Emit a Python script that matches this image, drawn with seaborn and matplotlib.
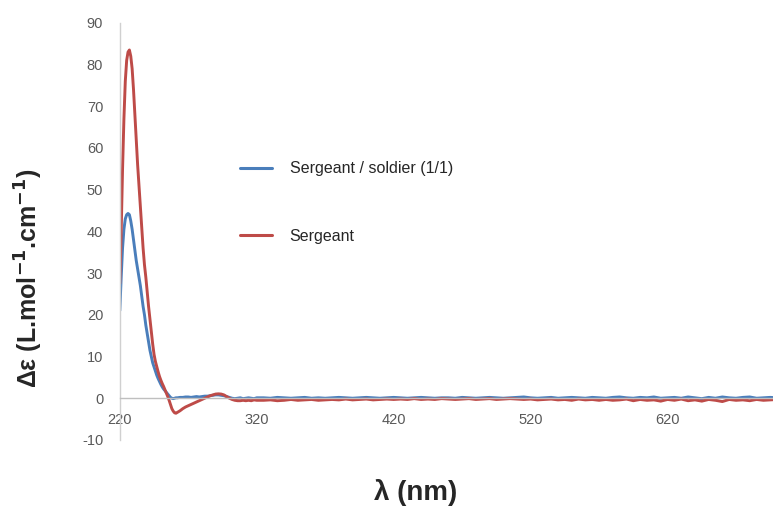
import numpy as np
import pandas as pd
import matplotlib
matplotlib.use("Agg")
import matplotlib.pyplot as plt
import seaborn as sns

# wavelength sampling (nm): fine near the band, coarser in the flat part
wl_band = list(range(220, 263))          # 220..262 step 1
wl_tail = list(range(264, 321, 2))       # 264..320 step 2
wl_flat = list(range(325, 701, 5))       # 325..700 step 5
wavelengths = wl_band + wl_tail + wl_flat

mix_band = [21, 29, 36, 40.5, 43, 44, 44.3, 44, 42.5, 40.5,
            38, 35.5, 33, 31, 29, 27, 24.5, 22, 20, 17.5,
            15.5, 13.5, 11.5, 10, 8.5, 7.5, 6.5, 5.5, 4.7, 4,
            3.3, 2.7, 2.2, 1.8, 1.4, 1.0, 0.6, 0.2, 0.0, -0.1,
            0.0, 0.1, 0.1]
mix_tail = [0.2, 0.2, 0.3, 0.3, 0.2, 0.3, 0.4, 0.3, 0.4, 0.5,
            0.5, 0.6, 0.7, 0.8, 0.8, 0.7, 0.6, 0.4, 0.2, 0.0,
            -0.1, 0.0, 0.1, -0.1, 0.0, 0.1, 0.0, -0.1, 0.1]
mix_flat = [0.1, 0.0, 0.2, 0.1, 0.0, 0.1, 0.2, 0.0, 0.1, 0.0,
            0.1, 0.2, 0.1, 0.0, 0.1, 0.2, 0.1, 0.0, 0.1, 0.2,
            0.1, 0.0, 0.1, 0.2, 0.1, 0.0, 0.1, 0.1, 0.0, 0.2,
            0.1, 0.0, 0.1, 0.2, 0.1, 0.0, 0.1, 0.2, 0.3, 0.1,
            0.0, 0.1, 0.2, 0.0, 0.1, 0.2, 0.1, 0.0, 0.2, 0.1,
            0.0, 0.2, 0.3, 0.1, 0.0, 0.2, 0.1, 0.3, 0.0, 0.1,
            0.2, 0.0, 0.3, 0.1, -0.1, 0.2, 0.0, 0.3, 0.1, 0.0,
            0.2, 0.3, 0.0, 0.1, 0.2, 0.1]

sgt_band = [27.5, 40, 55, 67, 76, 81, 83, 83.5, 82, 79,
            74, 68, 62, 56, 51, 46, 41, 36, 32, 29,
            25.5, 22, 19, 16, 13, 10.5, 8.8, 7.5, 6.3, 5.2,
            4.3, 3.5, 2.8, 2.0, 1.2, 0.4, -0.5, -1.5, -2.5, -3.1,
            -3.5, -3.6, -3.4]
sgt_tail = [-3.0, -2.5, -2.1, -1.8, -1.5, -1.2, -0.9, -0.6, -0.3, 0.0,
            0.3, 0.6, 0.8, 1.0, 1.05, 1.0, 0.8, 0.4, 0.0, -0.3,
            -0.5, -0.6, -0.6, -0.5, -0.6, -0.5, -0.6, -0.4, -0.5]
sgt_flat = [-0.5, -0.4, -0.6, -0.5, -0.3, -0.5, -0.4, -0.3, -0.5, -0.4,
            -0.3, -0.4, -0.2, -0.4, -0.3, -0.2, -0.4, -0.3, -0.2, -0.3,
            -0.2, -0.3, -0.1, -0.3, -0.2, -0.3, -0.1, -0.2, -0.3, -0.2,
            -0.1, -0.3, -0.2, -0.1, -0.3, -0.2, -0.1, -0.2, -0.3, -0.2,
            -0.4, -0.3, -0.2, -0.4, -0.3, -0.5, -0.2, -0.4, -0.3, -0.5,
            -0.3, -0.5, -0.4, -0.2, -0.6, -0.3, -0.5, -0.4, -0.7, -0.3,
            -0.5, -0.2, -0.6, -0.4, -0.7, -0.3, -0.5, -0.8, -0.3, -0.5,
            -0.4, -0.6, -0.3, -0.5, -0.4, -0.3]

series_names = ["Sergeant / soldier (1/1)", "Sergeant"]
series_colors = ["#4a7ebb", "#be4b48"]
x_ticks = [220, 320, 420, 520, 620]
y_ticks = list(range(-10, 91, 10))

mix = mix_band + mix_tail + mix_flat
sgt = sgt_band + sgt_tail + sgt_flat

df = pd.concat([
    pd.DataFrame({"wl": wavelengths, "de": mix, "sample": series_names[0]}),
    pd.DataFrame({"wl": wavelengths, "de": sgt, "sample": series_names[1]}),
])

sns.set_style("white")
plt.rcParams["font.family"] = ["Liberation Sans", "DejaVu Sans"]
plt.rcParams["axes.unicode_minus"] = False

fig = plt.figure(figsize=(7.73, 5.08), dpi=100)
ax = fig.add_axes([0.155, 0.134, 0.845, 0.821])

sns.lineplot(data=df, x="wl", y="de", hue="sample", hue_order=series_names,
             palette=series_colors, linewidth=2.1, errorbar=None, ax=ax)

ax.set_xlim(220, 697)
ax.set_ylim(-10, 90)
ax.set_xticks(x_ticks)
ax.set_yticks(y_ticks)

for side in ["top", "right"]:
    ax.spines[side].set_visible(False)
ax.spines["bottom"].set_position(("data", 0))
ax.spines["bottom"].set_color("#bfbfbf")
ax.spines["left"].set_color("#d0d0d0")
ax.spines["left"].set_linewidth(1.0)
ax.spines["bottom"].set_linewidth(1.0)
ax.tick_params(axis="both", length=0, labelsize=10.5, labelcolor="#595959")
ax.tick_params(axis="y", pad=12)
ax.tick_params(axis="x", pad=11)

ax.set_xlabel("")
ax.set_ylabel("")
fig.text(0.538, 0.03, "λ (nm)", ha="center", va="center",
         fontsize=20, fontweight="bold")
fig.text(0.038, 0.452, r"Δε (L.mol$^{\mathbf{-1}}$.cm$^{\mathbf{-1}}$)",
         ha="center", va="center", rotation=90, fontsize=18, fontweight="bold")

leg = ax.legend(loc="upper left", bbox_to_anchor=(0.184, 0.668), frameon=False,
                fontsize=11.5, handlelength=2.0, handletextpad=1.1,
                labelspacing=3.3, borderpad=0, borderaxespad=0)
for line in leg.get_lines():
    line.set_linewidth(2.2)

fig.savefig("out.png", dpi=100)
